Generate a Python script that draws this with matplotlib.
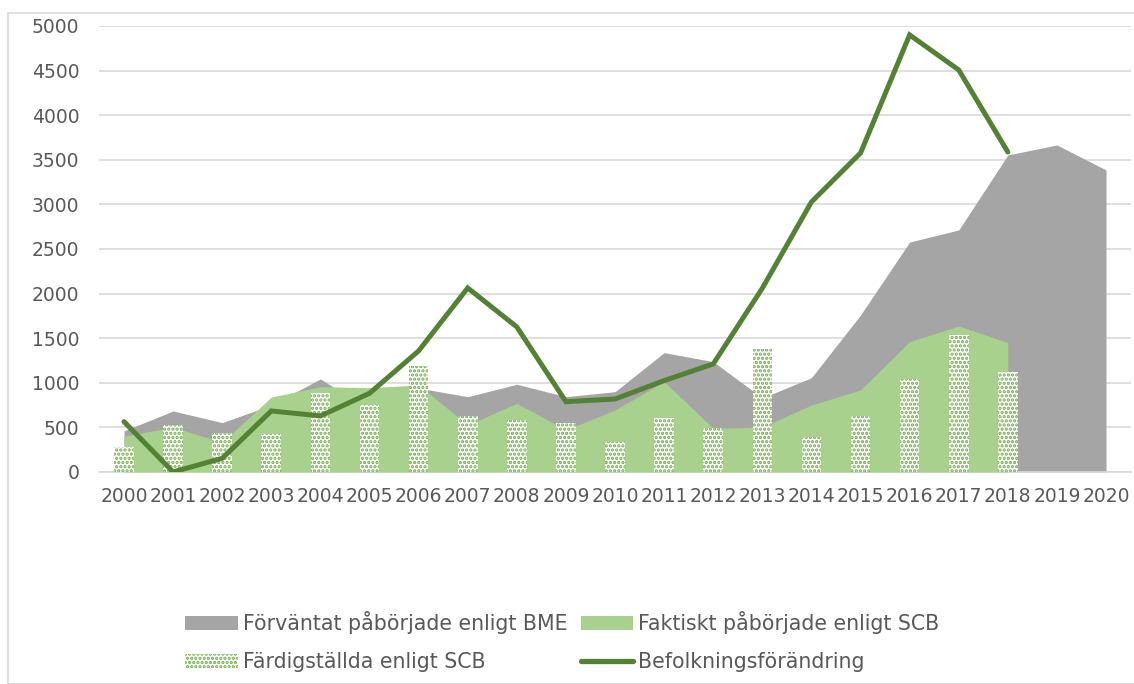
import matplotlib
matplotlib.use("Agg")
import matplotlib.pyplot as plt
import numpy as np
from matplotlib.patches import Rectangle
from matplotlib.lines import Line2D

years = [str(y) for y in range(2000, 2021)]
bme_expected = [460, 684, 553, 750, 1043, 700, 940, 844, 983, 844, 900, 1338, 1237,
                830, 1057, 1760, 2578, 2713, 3554, 3666, 3386]
scb_started = [400, 503, 330, 840, 956, 945, 975, 527, 770, 471, 695, 1013, 490,
               501, 751, 919, 1461, 1637, 1450]
scb_completed = [277, 527, 434, 430, 882, 748, 1192, 628, 583, 546, 333, 609, 490,
                 1375, 389, 628, 1039, 1536, 1125]
population_change = [564, 0, 153, 684, 628, 882, 1357, 2063, 1626, 788, 818, 1024, 1211,
                     2060, 3027, 3576, 4900, 4507, 3587]

labels = ["Förväntat påbörjade enligt BME", "Faktiskt påbörjade enligt SCB",
          "Färdigställda enligt SCB", "Befolkningsförändring"]

plt.rcParams['font.family'] = ['DejaVu Sans']
plt.rcParams['hatch.linewidth'] = 1.6
text_color = '#595959'
gray = '#A5A5A5'
light_green = '#A9D18E'
dark_green = '#548235'
dot_green = '#70AD47'

fig = plt.figure(figsize=(11.34, 6.84), dpi=100)
ax = fig.add_axes([0.0877, 0.310, 0.9093, 0.652])

x_all = np.arange(len(years))
x_bme = x_all[:len(bme_expected)]
x_scb = x_all[:len(scb_started)]

ax.fill_between(x_bme, 0, bme_expected, color=gray, lw=0, zorder=2)
ax.fill_between(x_scb, 0, scb_started, color=light_green, lw=0, zorder=3)
ax.bar(x_all[:len(scb_completed)], scb_completed, width=0.4, color='white',
       edgecolor=dot_green, linewidth=0, hatch='....', zorder=4)
ax.plot(x_all[:len(population_change)], population_change, color=dark_green, lw=3.6,
        solid_capstyle='round', solid_joinstyle='miter', zorder=5)

ax.set_xlim(-0.5, len(years) - 0.5)
ax.set_ylim(0, 5000)
ax.set_yticks(np.arange(0, 5001, 500))
ax.set_xticks(x_all)
ax.set_xticklabels(years)
ax.tick_params(axis='both', length=0, labelsize=13.5, labelcolor=text_color)
ax.tick_params(axis='y', pad=14.5)
ax.tick_params(axis='x', pad=11)
ax.grid(axis='y', color='#D9D9D9', lw=1.2, zorder=0)
ax.set_axisbelow(True)
for s in ['top', 'right', 'left']:
    ax.spines[s].set_visible(False)
ax.spines['bottom'].set_color('#D9D9D9')
ax.spines['bottom'].set_linewidth(1.2)

handles = [
    Rectangle((0, 0), 1, 1, facecolor=gray, lw=0),
    Rectangle((0, 0), 1, 1, facecolor='white', edgecolor=dot_green, lw=0, hatch='....'),
    Rectangle((0, 0), 1, 1, facecolor=light_green, lw=0),
    Line2D([0], [0], color=dark_green, lw=3.8, solid_capstyle='round'),
]
order_labels = [labels[0], labels[2], labels[1], labels[3]]
leg = fig.legend(handles, order_labels, ncol=2, loc='center', bbox_to_anchor=(0.496, 0.062),
                 frameon=False, fontsize=14.8, handlelength=2.55, handleheight=0.68,
                 handletextpad=0.25, columnspacing=0.65, labelspacing=0.9)
for t in leg.get_texts():
    t.set_color(text_color)

fig.patches.append(Rectangle((8 / 1134, 0), 1, 1 - 13 / 684, transform=fig.transFigure,
                             fill=False, edgecolor='#D9D9D9', lw=1.2))

fig.savefig('out.png', dpi=100)
